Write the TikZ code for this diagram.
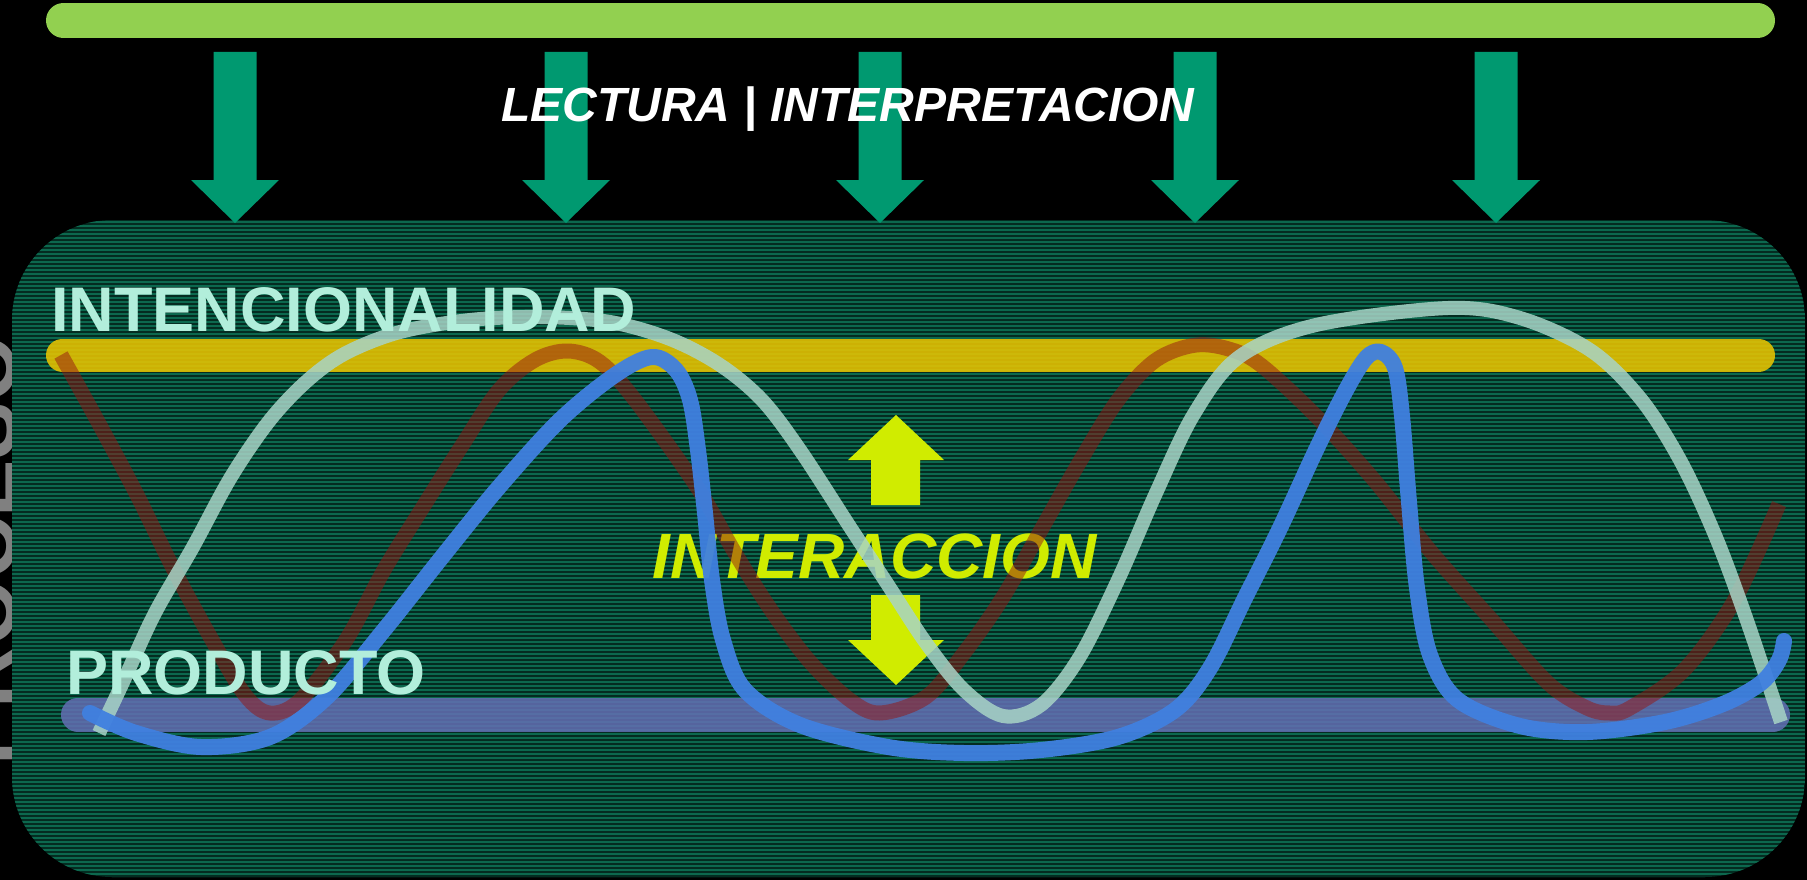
\documentclass[tikz,border=0pt]{standalone}
\usepackage{fontspec}
\setmainfont{Liberation Sans}
\definecolor{topgreen}{RGB}{146,208,80}
\definecolor{arrowgreen}{RGB}{0,153,112}
\definecolor{boxbase}{RGB}{4,44,33}
\definecolor{stripe}{RGB}{12,104,78}
\definecolor{mint}{RGB}{178,238,219}
\definecolor{lime}{RGB}{208,236,0}
\definecolor{yellowbar}{RGB}{232,196,0}
\definecolor{purplebar}{RGB}{100,110,180}
\definecolor{redc}{RGB}{150,22,18}
\definecolor{aquac}{RGB}{168,212,198}
\definecolor{bluec}{RGB}{64,128,224}
\definecolor{procgray}{RGB}{128,128,128}
\tikzset{
  bigtext/.style={font=\fontsize{63}{63}\selectfont\bfseries, text=mint, inner sep=0pt, anchor=base west},
  downarrow/.pic={\fill[arrowgreen] (-21.5,52) -- (21.5,52) -- (21.5,180) -- (44,180) -- (0,223) -- (-44,180) -- (-21.5,180) -- cycle;},
  curve/.style={line cap=butt, line join=round},
}
\begin{document}
\begin{tikzpicture}[x=1pt,y=-1pt]
\useasboundingbox (0,0) rectangle (1807,880);
\fill[black] (0,0) rectangle (1807,880);
% side text
\node[font=\fontsize{86}{86}\selectfont\bfseries, text=procgray, inner sep=0pt, anchor=base west, rotate=90] (proceso) at (15,766) {PROCESO};
% main box
\fill[boxbase, rounded corners=100pt] (12,220) rectangle (1805,877);
\begin{scope}
  \clip[rounded corners=100pt] (12,220) rectangle (1805,877);
  \foreach \yy in {222,226,...,878} \draw[stripe, line width=1.1pt] (12,\yy) -- (1805,\yy);
\end{scope}
% top bar
\draw[topgreen, line width=35pt, line cap=round] (63.5,20.5) -- (1757.5,20.5);
% green arrows
\foreach \xx in {235,566,880,1195,1496} \pic at (\xx,0) {downarrow};
\node[font=\fontsize{48}{48}\selectfont\bfseries\itshape, text=white, inner sep=0pt, anchor=base west] (lectura) at (501,122) {LECTURA | INTERPRETACION};
% horizontal bars
\draw[yellowbar, opacity=0.88, line width=33pt, line cap=round] (62.5,355) -- (1758.5,355);
\draw[purplebar, opacity=0.85, line width=34pt, line cap=round] (78,714.5) -- (1773,714.5);
% interaction arrows
\fill[lime] (896,415) -- (944,460) -- (920,460) -- (920,505) -- (871,505) -- (871,460) -- (848,460) -- cycle;
\fill[lime] (871,595) -- (920,595) -- (920,640) -- (944,640) -- (896,685) -- (848,640) -- (871,640) -- cycle;
\node[font=\fontsize{64}{64}\selectfont\bfseries\itshape, text=lime, inner sep=0pt, anchor=base west] (interac) at (652,578) {INTERACCION};
% red curve
\draw[curve, redc, opacity=0.5, line width=15pt] plot[smooth, tension=0.55] coordinates {
 (61,355) (97,420) (136,493) (174,570) (212,640) (245,695) (270,713) (300,700) (346,640) (384,570) (423,507) (461,447) (499,390) (535,360) (568,351) (600,362) (635,400) (697,487) (735,553) (773,613) (811,663) (850,700) (880,713) (926,697) (964,653) (1003,597) (1041,530) (1079,463) (1118,400) (1156,360) (1196,345) (1232,350) (1262,366) (1316,416) (1374,480) (1432,553) (1490,618) (1548,683) (1587,708) (1610,713) (1630,708) (1684,670) (1734,601) (1779,504)};
% aqua curve
\draw[curve, aquac, opacity=0.85, line width=14pt] plot[smooth, tension=0.55] coordinates {
 (99,733) (124,680) (155,613) (193,547) (231,477) (270,420) (308,380) (346,353) (400,332) (470,320) (540,317) (610,322) (670,339) (720,365) (762,400) (800,450) (850,527) (888,585) (926,643) (964,690) (1003,716) (1041,705) (1079,658) (1118,580) (1156,493) (1194,414) (1239,357) (1316,325) (1448,308) (1520,318) (1590,350) (1640,398) (1680,460) (1715,535) (1745,615) (1781,722)};
% blue curve
\draw[bluec, opacity=0.95, line width=16pt, line cap=round, line join=round] plot[smooth, tension=0.55] coordinates {
 (90,713) (136,733) (201,747) (270,737) (327,697) (384,630) (442,557) (499,487) (560,420) (615,375) (652,357) (676,370) (690,400) (698,450) (705,513) (712,580) (723,640) (745,690) (800,725) (888,747) (964,753) (1041,750) (1118,737) (1175,710) (1210,668) (1245,598) (1280,528) (1316,450) (1345,392) (1366,358) (1381,352) (1395,368) (1402,416) (1409,502) (1417,588) (1430,655) (1458,700) (1520,726) (1587,732) (1665,722) (1723,704) (1761,683) (1779,660) (1784,641)};
% labels
\node[bigtext] (intencion) at (51,331) {INTENCIONALIDAD};
\node[bigtext] (producto) at (66,694) {PRODUCTO};
\end{tikzpicture}
\end{document}
